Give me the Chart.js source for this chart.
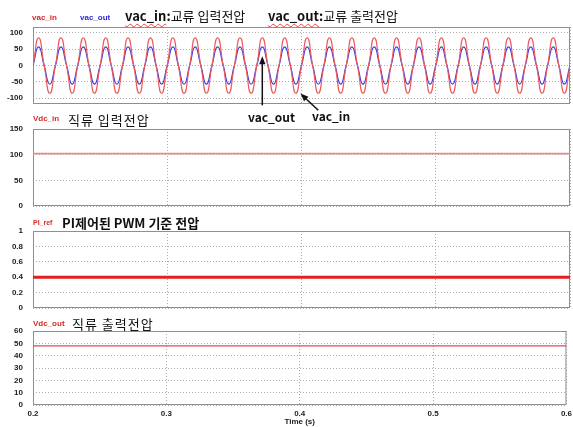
<!DOCTYPE html>
<html>
<head>
<meta charset="utf-8">
<script src="https://cdn.jsdelivr.net/npm/chart.js@4.4.1/dist/chart.umd.min.js"></script>
<style>
  html, body { margin: 0; padding: 0; background: #fff; overflow: hidden; }
  #wrap { position: relative; width: 573px; height: 427px; overflow: hidden; }
  canvas { position: absolute; left: 0; }
  .t { position: absolute; white-space: nowrap; transform: translateY(-50%); line-height: 1;
       font-family: "Noto Sans CJK KR", sans-serif; color: #111; z-index: 5; }
  .leg { font: bold 8px "Liberation Sans", Arial, sans-serif; color: #d82828; }
  .big { font-size: 13px; }
  .b { font-weight: bold; }
  .sq { text-decoration: underline wavy #e04848 1px; text-underline-offset: 2px; }
</style>
</head>
<body>
<div id="wrap">
  <canvas id="c1" width="576" height="107" style="top:12px"></canvas>
  <canvas id="c2" width="576" height="107" style="top:114px"></canvas>
  <canvas id="c3" width="576" height="107" style="top:216px"></canvas>
  <canvas id="c4" width="576" height="111" style="top:316px"></canvas>

  <span class="t leg" style="left:32px;top:17px">vac_in</span>
  <span class="t leg" style="left:80px;top:17px;color:#2b2bdc">vac_out</span>
  <span class="t big" style="left:125px;top:15px"><b class="sq">vac_in</b><b>:</b>교류 입력전압</span>
  <span class="t big" style="left:268px;top:15px"><b class="sq">vac_out</b><b>:</b>교류 출력전압</span>
  <span class="t b" style="left:248px;top:117px;font-size:12px">vac_out</span>
  <span class="t b" style="left:312px;top:116px;font-size:12px">vac_in</span>

  <span class="t leg" style="left:33px;top:118px">Vdc_in</span>
  <span class="t big" style="left:68px;top:119px;letter-spacing:1px">직류 입력전압</span>

  <span class="t leg" style="left:33px;top:222px;font-size:7px">PI_ref</span>
  <span class="t big b" style="left:62px;top:222px">PI제어된 PWM 기준 전압</span>

  <span class="t leg" style="left:33px;top:323px">Vdc_out</span>
  <span class="t big" style="left:72px;top:323px;letter-spacing:1px">직류 출력전압</span>
</div>

<script>
// time samples (s), quarter period of the 60 Hz waveform
const times = [
  0.2, 0.2042, 0.2083, 0.2125, 0.2167, 0.2208, 0.225, 0.2292, 0.2333, 0.2375, 0.2417, 0.2458,
  0.25, 0.2542, 0.2583, 0.2625, 0.2667, 0.2708, 0.275, 0.2792, 0.2833, 0.2875, 0.2917, 0.2958,
  0.3, 0.3042, 0.3083, 0.3125, 0.3167, 0.3208, 0.325, 0.3292, 0.3333, 0.3375, 0.3417, 0.3458,
  0.35, 0.3542, 0.3583, 0.3625, 0.3667, 0.3708, 0.375, 0.3792, 0.3833, 0.3875, 0.3917, 0.3958,
  0.4, 0.4042, 0.4083, 0.4125, 0.4167, 0.4208, 0.425, 0.4292, 0.4333, 0.4375, 0.4417, 0.4458,
  0.45, 0.4542, 0.4583, 0.4625, 0.4667, 0.4708, 0.475, 0.4792, 0.4833, 0.4875, 0.4917, 0.4958,
  0.5, 0.5042, 0.5083, 0.5125, 0.5167, 0.5208, 0.525, 0.5292, 0.5333, 0.5375, 0.5417, 0.5458,
  0.55, 0.5542, 0.5583, 0.5625, 0.5667, 0.5708, 0.575, 0.5792, 0.5833, 0.5875, 0.5917, 0.5958,
  0.6
];
const vacIn = [
  0, 85, 0, -85, 0, 85, 0, -85, 0, 85, 0, -85, 0, 85, 0, -85, 0, 85, 0, -85, 0, 85, 0, -85,
  0, 85, 0, -85, 0, 85, 0, -85, 0, 85, 0, -85, 0, 85, 0, -85, 0, 85, 0, -85, 0, 85, 0, -85,
  0, 85, 0, -85, 0, 85, 0, -85, 0, 85, 0, -85, 0, 85, 0, -85, 0, 85, 0, -85, 0, 85, 0, -85,
  0, 85, 0, -85, 0, 85, 0, -85, 0, 85, 0, -85, 0, 85, 0, -85, 0, 85, 0, -85, 0, 85, 0, -85,
  0
];
const vacOut = [
  0, 57, 0, -57, 0, 57, 0, -57, 0, 57, 0, -57, 0, 57, 0, -57, 0, 57, 0, -57, 0, 57, 0, -57,
  0, 57, 0, -57, 0, 57, 0, -57, 0, 57, 0, -57, 0, 57, 0, -57, 0, 57, 0, -57, 0, 57, 0, -57,
  0, 57, 0, -57, 0, 57, 0, -57, 0, 57, 0, -57, 0, 57, 0, -57, 0, 57, 0, -57, 0, 57, 0, -57,
  0, 57, 0, -57, 0, 57, 0, -57, 0, 57, 0, -57, 0, 57, 0, -57, 0, 57, 0, -57, 0, 57, 0, -57,
  0
];
const dcTimes = [0.2, 0.6];
const vdcIn = [102, 102];
const piRef = [0.4, 0.4];
const vdcOut = [48, 48];

const xTicks = [0.2, 0.3, 0.4, 0.5, 0.6];
const yTicksAc = [-100, -50, 0, 50, 100];
const yTicksDcIn = [0, 50, 100, 150];
const yTicksPi = [0, 0.2, 0.4, 0.6, 0.8, 1];
const yTicksDcOut = [0, 10, 20, 30, 40, 50, 60];

const tickFont = { family: 'Liberation Sans, Arial, sans-serif', size: 8, weight: 'bold' };
const fmt = v => String(+v.toFixed(3));
const pts = (xs, ys) => xs.map((x, i) => ({ x: x, y: ys[i] }));

const frame = {
  id: 'frame',
  beforeDatasetsDraw(chart) {
    const a = chart.chartArea, c = chart.ctx;
    c.save();
    c.strokeStyle = '#8f8f8f';
    c.lineWidth = 1;
    c.strokeRect(a.left + 0.5, a.top + 0.5, a.right - a.left - 1, a.bottom - a.top - 1);
    c.restore();
  }
};

// arrows pointing at the curves, given in data units
const pointers = {
  id: 'pointers',
  afterDraw(chart) {
    const xs = chart.scales.x, ys = chart.scales.y, c = chart.ctx;
    const list = [
      { from: [0.3708, -122], to: [0.3708, 28] },
      { from: [0.4125, -137], to: [0.3992, -86] }
    ];
    c.save();
    c.strokeStyle = '#111';
    c.fillStyle = '#111';
    c.lineWidth = 1.5;
    list.forEach(p => {
      const x0 = xs.getPixelForValue(p.from[0]), y0 = ys.getPixelForValue(p.from[1]);
      const x1 = xs.getPixelForValue(p.to[0]), y1 = ys.getPixelForValue(p.to[1]);
      const ang = Math.atan2(y1 - y0, x1 - x0);
      c.beginPath();
      c.moveTo(x0, y0);
      c.lineTo(x1 - 5 * Math.cos(ang), y1 - 5 * Math.sin(ang));
      c.stroke();
      c.beginPath();
      c.moveTo(x1, y1);
      c.lineTo(x1 - 8 * Math.cos(ang) + 3.2 * Math.sin(ang), y1 - 8 * Math.sin(ang) - 3.2 * Math.cos(ang));
      c.lineTo(x1 - 8 * Math.cos(ang) - 3.2 * Math.sin(ang), y1 - 8 * Math.sin(ang) + 3.2 * Math.cos(ang));
      c.closePath();
      c.fill();
    });
    c.restore();
  }
};

function panel(id, datasets, yMin, yMax, yTicks, bottomAxis, padBottom, extra) {
  new Chart(document.getElementById(id), {
    type: 'line',
    data: { datasets: datasets },
    options: {
      responsive: false,
      animation: false,
      events: [],
      layout: { padding: { top: 15, left: 0, right: 6, bottom: padBottom } },
      plugins: { legend: { display: false }, tooltip: { enabled: false } },
      elements: { point: { radius: 0 } },
      scales: {
        x: {
          type: 'linear', min: 0.2, max: 0.6,
          afterBuildTicks: s => { s.ticks = xTicks.map(v => ({ value: v })); },
          afterFit: s => { s.height = bottomAxis ? 22 : 0; },
          grid: { color: '#ababab', drawTicks: false },
          border: { display: false, dash: [1, 2] },
          ticks: { display: bottomAxis, font: tickFont, color: '#222', padding: 4, callback: fmt,
                   maxRotation: 0, autoSkip: false },
          title: { display: bottomAxis, text: 'Time (s)', font: tickFont, color: '#222', padding: 0 }
        },
        y: {
          min: yMin, max: yMax,
          afterBuildTicks: s => { s.ticks = yTicks.map(v => ({ value: v })); },
          afterFit: s => { s.width = 33; },
          grid: { color: '#ababab', drawTicks: false },
          border: { display: false, dash: [1, 2] },
          ticks: { font: tickFont, color: '#222', padding: 10, callback: fmt, autoSkip: false }
        }
      }
    },
    plugins: [frame].concat(extra || [])
  });
}

panel('c1', [
  { data: pts(times, vacIn), borderColor: '#ee5a5a', borderWidth: 1.2, tension: 0.55 },
  { data: pts(times, vacOut), borderColor: '#3a3ae6', borderWidth: 1.2, tension: 0.55 }
], -118, 118, yTicksAc, false, 15, [pointers]);

panel('c2', [
  { data: pts(dcTimes, vdcIn), borderColor: '#e88a8a', borderWidth: 1.6 }
], 0, 150, yTicksDcIn, false, 15);

panel('c3', [
  { data: pts(dcTimes, piRef), borderColor: '#e41e1e', borderWidth: 3 }
], 0, 1, yTicksPi, false, 15);

panel('c4', [
  { data: pts(dcTimes, vdcOut), borderColor: '#e04a5a', borderWidth: 1.2 }
], 0, 60, yTicksDcOut, true, 0);
</script>
</body>
</html>
